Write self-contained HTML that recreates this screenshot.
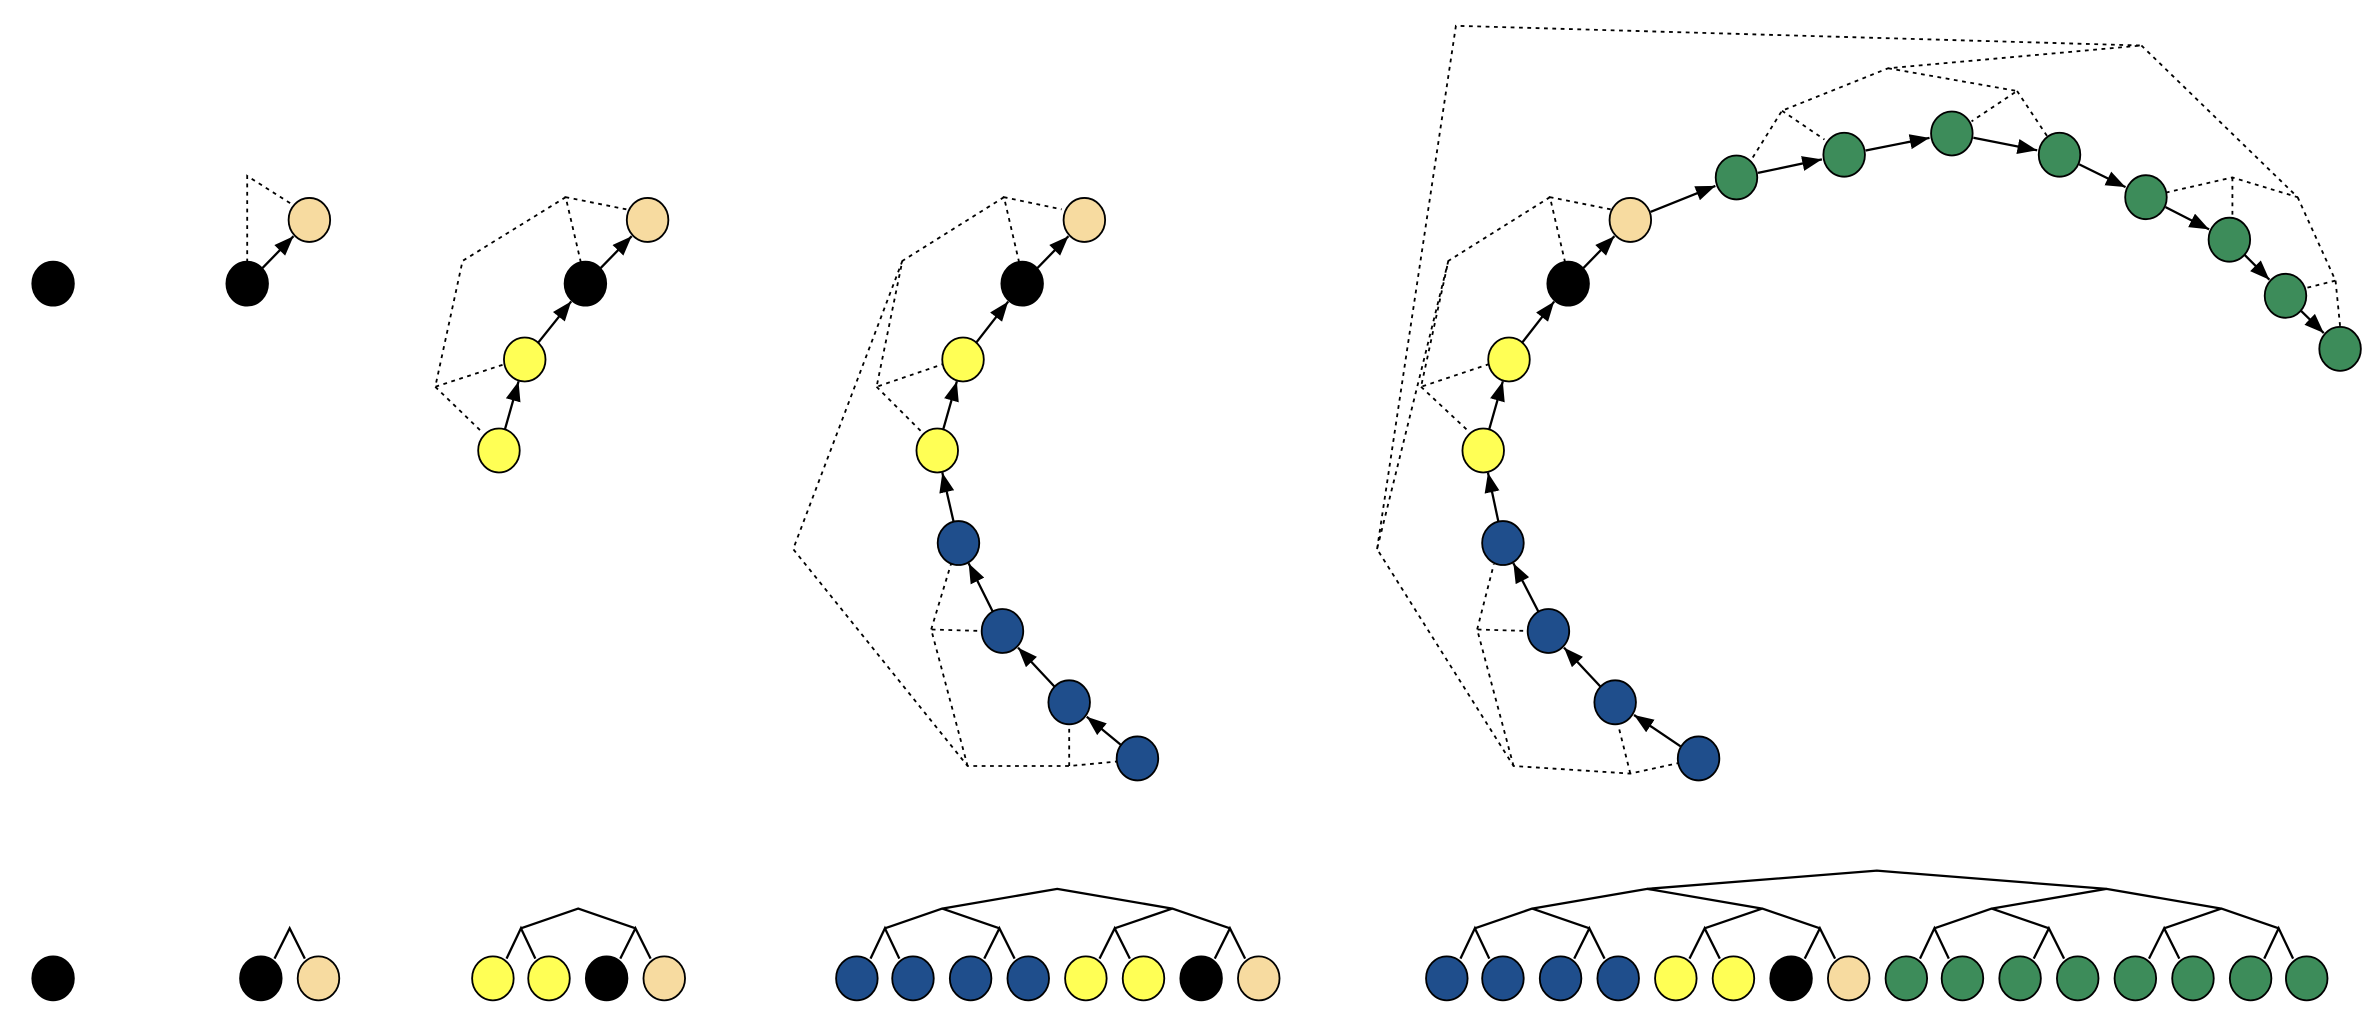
<!DOCTYPE html>
<html><head><meta charset="utf-8"><style>html,body{margin:0;padding:0;background:#fff}svg{display:block}</style></head>
<body>
<svg id="s" width="2378" height="1036" viewBox="0 0 1568 683" preserveAspectRatio="none" xmlns="http://www.w3.org/2000/svg">
<defs><marker id="a" markerUnits="userSpaceOnUse" markerWidth="14" markerHeight="11" refX="13" refY="5" orient="auto"><path d="M0,0 L13,5 L0,10 z" fill="#000"/></marker></defs>
<g id="d" fill="none" stroke="#000" stroke-width="1.2" stroke-dasharray="2.5,3">
<polyline points="163,173 163,116 193,135"/>
<polyline points="383,173 373,130 413,138"/><polyline points="373,130 305,172 287,255 333,240"/><polyline points="287,255 318,285"/>
<polyline points="672,173 662,130 700,138"/><polyline points="662,130 595,172 578,255 622,240"/><polyline points="578,255 607,284"/>
<polyline points="595,172 523,362 638,505 705,505 737,502"/><polyline points="705,505 705,478"/>
<polyline points="638,505 614,415 648,416"/><polyline points="614,415 627,372"/>
<polyline points="1032,173 1022,130 1062,138"/><polyline points="1022,130 955,172 937,255 982,240"/><polyline points="937,255 968,284"/>
<polyline points="955,172 908,362 998,505 1075,510 1107,503"/><polyline points="1075,510 1067,478"/>
<polyline points="998,505 974,415 1008,416"/><polyline points="974,415 985,372"/>
<polyline points="908,362 960,17 1412,30 1245,45 1175,73 1155,105"/><polyline points="1175,73 1203,92"/>
<polyline points="1245,45 1330,60 1300,80"/><polyline points="1330,60 1350,90"/>
<polyline points="1412,30 1515,130 1472,117 1428,127"/><polyline points="1472,117 1472,145"/>
<polyline points="1515,130 1540,185 1520,190"/><polyline points="1540,185 1543,215"/>
</g>
<g id="t" fill="none" stroke="#000" stroke-width="1.5"></g>
<g id="e" stroke="#000" stroke-width="1.5"></g>
<g id="n" stroke="#000" stroke-width="1.2"></g>
</svg>
<script>
var K='#000',T='#f7dba0',Y='#ffff55',B='#1f4e8c',G='#3d8c5a';
var NS='http://www.w3.org/2000/svg';
function el(g,tag,at){var e=document.createElementNS(NS,tag);for(var k in at)e.setAttribute(k,at[k]);document.getElementById(g).appendChild(e);return e;}
var R=14.5;
function chain(pts){for(var i=0;i<pts.length;i++){el('n','ellipse',{cx:pts[i][0],cy:pts[i][1],rx:R-0.8,ry:R,fill:pts[i][2]});}
 for(var i=0;i+1<pts.length;i++){var a=pts[i],b=pts[i+1],dx=b[0]-a[0],dy=b[1]-a[1],L=Math.hypot(dx,dy),ux=dx/L,uy=dy/L;
  el('e','line',{x1:a[0]+ux*R,y1:a[1]+uy*R,x2:b[0]-ux*(R+0.5),y2:b[1]-uy*(R+0.5),'marker-end':'url(#a)'});}}
chain([[35,187,K]]);
chain([[163,187,K],[204,145,T]]);
chain([[329,297,Y],[346,237,Y],[386,187,K],[427,145,T]]);
chain([[750,500,B],[705,463,B],[661,416,B],[632,358,B],[618,297,Y],[635,237,Y],[674,187,K],[715,145,T]]);
chain([[1120,500,B],[1065,463,B],[1021,416,B],[991,358,B],[978,297,Y],[995,237,Y],[1034,187,K],[1075,145,T],[1145,117,G],[1216,102,G],[1287,88,G],[1358,102,G],[1415,130,G],[1470,158,G],[1507,195,G],[1543,230,G]]);
var ys=[632,612,599,586,574];
function tree(xs,cols){var lvl=xs.slice(),d=0;
 for(var i=0;i<xs.length;i++)el('n','ellipse',{cx:xs[i],cy:645,rx:R-0.8,ry:R,fill:cols[i]});
 if(xs.length<2)return;
 while(lvl.length>1){var nx=[];for(var i=0;i<lvl.length;i+=2){var m=(lvl[i]+lvl[i+1])/2;nx.push(m);
   var y0=ys[d],y1=ys[d+1];var ax=lvl[i],bx=lvl[i+1];
   if(d==0){ax+=9;bx-=9;}
   el('t','polyline',{points:ax+','+y0+' '+m+','+y1+' '+bx+','+y0});}
  lvl=nx;d++;}}
tree([35],[K]);
tree([172,210],[K,T]);
tree([325,362,400,438],[Y,Y,K,T]);
tree([565,602,640,678,716,754,792,830],[B,B,B,B,Y,Y,K,T]);
tree([954,991,1029,1067,1105,1143,1181,1219,1257,1294,1332,1370,1408,1446,1484,1521],[B,B,B,B,Y,Y,K,T,G,G,G,G,G,G,G,G]);
</script>
</body></html>
